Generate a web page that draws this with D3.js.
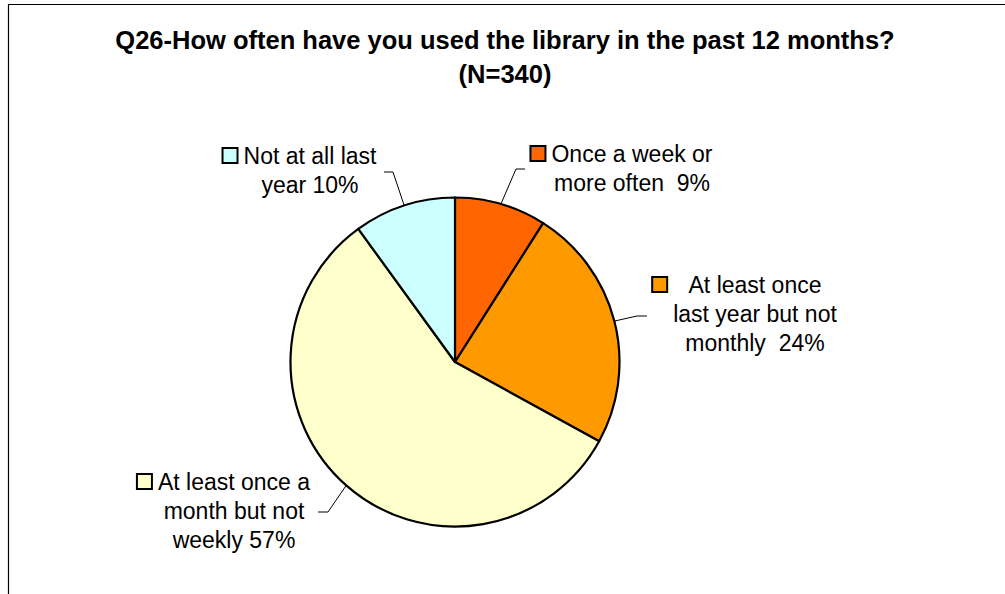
<!DOCTYPE html>
<html>
<head>
<meta charset="utf-8">
<script src="https://cdn.jsdelivr.net/npm/d3@7/dist/d3.min.js"></script>
<style>
  html, body { margin: 0; padding: 0; background: #fff; }
  svg { display: block; font-family: "Liberation Sans", Arial, sans-serif; }
  text { white-space: pre; }
</style>
</head>
<body>
<svg id="chart" width="1005" height="594"></svg>
<script>
// Survey responses, share of respondents (%)
const categories = [
  "Once a week or more often",
  "At least once last year but not monthly",
  "At least once a month but not weekly",
  "Not at all last year"
];
const values = [9, 24, 57, 10];
const labelLines = [
  ["Once a week or", "more often  9%"],
  ["At least once", "last year but not", "monthly  24%"],
  ["At least once a", "month but not", "weekly 57%"],
  ["Not at all last", "year 10%"]
];
const colors = ["#FF6600", "#FF9900", "#FFFFCC", "#CCFFFF"];
const titleLines = ["Q26-How often have you used the library in the past 12 months?", "(N=340)"];

const svg = d3.select("#chart");
const W = 1005, H = 594;

// frame (top and left edges)
svg.append("path")
  .attr("d", `M8.5,${H} L8.5,4.5 L${W},4.5`)
  .attr("fill", "none").attr("stroke", "#000").attr("stroke-width", 1.2);

// title
const title = svg.append("text")
  .attr("text-anchor", "middle")
  .attr("font-weight", "bold")
  .attr("font-size", 25.5)
  .attr("fill", "#000");
titleLines.forEach((t, i) => {
  title.append("tspan").attr("x", 505).attr("y", 49 + i * 34).text(t);
});

// pie
const cx = 455, cy = 362, R = 164.5;
const pie = d3.pie().sort(null).value(d => d)(values);
const arc = d3.arc().innerRadius(0).outerRadius(R);
const g = svg.append("g").attr("transform", `translate(${cx},${cy})`);
g.selectAll("path.slice").data(pie).join("path")
  .attr("class", "slice")
  .attr("d", arc)
  .attr("fill", (d, i) => colors[i])
  .attr("stroke", "#000").attr("stroke-width", 2.2).attr("stroke-linejoin", "round");

// label layout: text centre, first baseline, leader elbow and end
const layout = [
  { tx: 632, ty: 162, elbow: [516, 169], end: [525, 169] },
  { tx: 755, ty: 293, elbow: [637, 316], end: [647, 316] },
  { tx: 234, ty: 490, elbow: [328, 512], end: [318, 512] },
  { tx: 310, ty: 164, elbow: [393, 172], end: [384, 172] }
];
const lineH = 29;

pie.forEach((d, i) => {
  const a = (d.startAngle + d.endAngle) / 2;
  const px = cx + R * Math.sin(a), py = cy - R * Math.cos(a);
  const L = layout[i];
  svg.append("polyline")
    .attr("points", [[px, py], L.elbow, L.end].map(p => p.join(",")).join(" "))
    .attr("fill", "none").attr("stroke", "#000").attr("stroke-width", 1);

  const t = svg.append("text")
    .attr("text-anchor", "middle")
    .attr("font-size", 23)
    .attr("fill", "#000");
  let maxW = 0;
  labelLines[i].forEach((s, j) => {
    const ts = t.append("tspan").attr("x", L.tx).attr("y", L.ty + j * lineH).text(s);
    maxW = Math.max(maxW, ts.node().getComputedTextLength());
  });
  // legend key to the left of the label block
  const bx = L.tx - maxW / 2 - 21;
  svg.append("rect")
    .attr("x", bx).attr("y", L.ty - 16)
    .attr("width", 15).attr("height", 15)
    .attr("fill", colors[i])
    .attr("stroke", "#000").attr("stroke-width", 2);
});
</script>
</body>
</html>
